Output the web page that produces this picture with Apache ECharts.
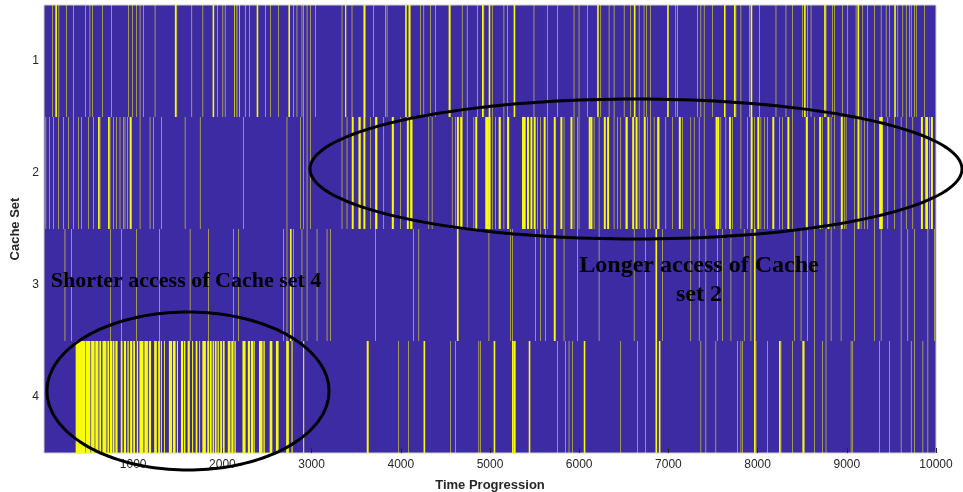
<!DOCTYPE html>
<html><head><meta charset="utf-8">
<script src="https://cdn.jsdelivr.net/npm/echarts@6/dist/echarts.min.js"></script>
<style>html,body{margin:0;padding:0;background:#fff}#c{width:963px;height:492px}</style>
</head><body><div id="c"></div>
<script>
// Cache sets (y categories) and x ticks
const cacheSets = ['1', '2', '3', '4'];
const timeTicks = [1000, 2000, 3000, 4000, 5000, 6000, 7000, 8000, 9000, 10000];
// Accesses per cache set: [start time, duration]
const accessSet1 = [[93,6],[127,18],[164,6],[250,6],[325,6],[464,6],[512,6],[539,6],[651,6],[756,6],[947,6],[988,6],[1036,6],[1074,6],[1111,6],[1242,6],[1467,18],[1486,6],[1654,6],[1778,6],[1890,18],[1942,6],[2002,6],[2028,6],[2133,8],[2159,8],[2186,8],[2253,6],[2302,6],[2384,18],[2478,6],[2534,6],[2627,6],[2740,18],[2796,6],[2833,6],[2889,6],[2908,6],[2946,6],[2983,6],[3039,6],
[3338,6],[3375,14],[3450,6],[3581,18],[3600,6],[3693,6],[3824,6],[3843,6],[4049,18],[4086,18],[4105,6],[4217,6],[4255,6],[4330,6],[4386,6],[4536,18],[4554,6],[4685,6],[4741,6],[4854,6],[4910,18],[4928,6],[4985,18],[5022,6],[5153,6],[5191,6],[5265,18],[5490,6],[5640,6],[5752,6],[5939,6],[5995,6],[6089,6],[6201,18],[6239,6],[6332,6],[6388,6],[6501,6],[6575,6],[6613,18],[6669,6],
[6724,6],[6754,6],[6799,6],[6986,18],[7080,6],[7099,6],[7323,6],[7361,6],[7398,6],[7492,6],[7623,18],[7735,18],[7754,6],[7810,6],[7904,6],[7922,18],[8016,6],[8203,6],[8315,6],[8390,6],[8502,6],[8521,18],[8559,6],[8596,6],[8746,18],[8764,6],[8839,6],[8858,6],[8951,6],[9008,6],[9101,6],[9120,18],[9176,6],[9232,6],[9307,6],[9382,6],[9438,6],[9476,6],[9532,18],[9569,6],[9625,6],[9663,6],[9700,6],[9719,6],[9756,6],[9775,6],[9869,6]];
const accessSet2 = [[18,6],[56,6],[101,6],[157,6],[213,6],[269,6],[325,6],[381,6],[419,6],[494,6],[550,6],[606,18],[625,6],[718,18],[737,6],[774,6],[812,6],[849,6],[887,6],[905,6],[932,6],[961,18],[980,6],[1074,6],[1186,6],[1224,6],[1317,6],[1579,6],[1748,6],[2234,6],[2721,6],[2871,6],[2908,6],[2946,6],[2983,6],
[3338,6],[3394,6],[3450,22],[3525,22],[3544,6],[3581,22],[3656,6],[3712,22],[3731,6],[3806,6],[3899,22],[3918,6],[3993,6],[4068,22],[4105,22],[4124,6],[4311,6],[4348,6],[4573,6],[4610,6],[4629,22],[4666,22],[4685,6],[4741,6],[4816,6],[4835,22],[4947,22],[4966,22],[4985,22],[5022,6],[5059,6],[5097,22],[5116,6],[5153,6],[5191,22],[5209,6],[5359,22],[5378,22],[5415,22],[5453,22],[5490,22],[5527,6],[5565,6],[5602,22],[5640,6],[5715,22],[5789,22],[5827,6],[5902,22],[5939,6],[5977,6],[5995,6],[6107,22],[6126,22],[6164,6],[6220,6],[6276,22],[6313,22],[6388,6],[6426,6],[6463,6],[6519,22],[6538,6],[6594,22],[6632,22],[6669,6],
[6724,22],[6762,6],[6799,6],[6837,6],[6874,22],[6893,6],[6968,6],[7043,6],[7117,22],[7155,6],[7248,6],[7286,6],[7342,6],[7398,6],[7529,22],[7548,22],[7585,6],[7641,6],[7679,22],[7716,6],[7810,6],[7885,6],[7922,22],[7960,6],[7997,22],[8034,6],[8072,6],[8109,6],[8165,22],[8240,6],[8278,6],[8334,22],[8390,6],[8540,22],[8559,6],[8633,6],[8690,22],[8727,6],[8783,22],[8821,6],[8858,6],[8933,22],[8970,6],[8989,6],[9083,6],[9120,22],[9157,6],[9195,6],[9232,6],[9307,6],[9363,22],[9382,22],[9457,6],[9532,6],[9606,6],[9663,6],[9737,6],[9831,22],[9880,30],[9925,6],[9943,22]];
const accessSet3 = [[232,6],[307,6],[744,6],[868,6],[1036,6],[1291,6],[1635,6],[1841,6],[2122,6],[2178,6],[2683,6],[2721,6],[2758,18],[2796,6],[2889,6],[2946,6],[3058,6],[3170,6],[3207,6],
[3712,6],[4142,6],[4199,6],[4629,18],[4985,6],[5228,6],[5247,6],[5509,6],[5565,6],[5621,6],[5715,18],[5733,6],[5827,6],[5977,6],[6220,6],[6613,6],
[6743,6],[6855,18],[6930,6],[7248,6],[7342,6],[7417,6],[7548,6],[7604,6],[7698,6],[7847,6],[7922,6],[7960,18],[8409,6],[8484,6],[8559,6],[8633,6],[8764,6],[8821,6],[8933,6],[9083,6],[9307,6],[9382,6],[9606,6],[9681,6],[9756,6],[9906,6],[9981,6]];
const accessSet4 = [[355,110],[470,50],[528,40],[575,35],[620,20],[655,45],[710,20],[740,25],[770,20],[800,25],[860,20],[895,25],[935,15],[965,25],[1000,20],[1040,15],[1070,45],[1125,40],[1175,25],[1235,30],[1280,20],[1310,12],[1345,10],[1400,35],[1445,30],[1490,12],[1535,25],[1570,15],[1610,25],[1660,12],[1700,20],[1740,10],[1775,40],[1830,20],[1860,20],[1890,15],[1915,20],[1945,15],[1975,20],[2005,20],[2060,30],[2100,25],[2135,15],[2225,35],[2285,25],[2320,25],[2350,12],[2410,40],[2460,15],[2530,30],[2600,30],[2715,30],[2775,12],[2905,12],
[3618,18],[3637,6],[3974,6],[4086,6],[4255,18],[4554,6],[4610,6],[4872,6],[4891,6],[5041,18],[5247,18],[5265,18],[5284,6],[5434,18],[5752,6],[5846,6],[5883,6],[5920,6],[6051,18],[6463,6],[6650,6],
[6743,6],[6855,18],[6893,18],[7361,6],[7417,6],[7529,6],[7772,6],[7810,6],[7829,6],[7960,18],[7979,6],[8109,6],[8240,18],[8259,6],[8390,6],[8502,18],[8521,6],[8633,6],[8727,6],[8764,6],[9045,6],[9064,6],[9363,6],[9476,6],[9606,6],[9719,6],[9756,6],[9850,6],[9906,6]];

const allSets = [accessSet1, accessSet2, accessSet3, accessSet4];
const seriesData = [];
allSets.forEach((arr, i) => arr.forEach(a => seriesData.push([a[0], i, a[1]])));

const chart = echarts.init(document.getElementById('c'), null, {renderer: 'canvas'});
const BLUE = '#3d2ba3', YELLOW = '#f9fb0e';
const serif = '"Liberation Serif", "Times New Roman", serif';

function ellipsePoints(cx, cy, rx, ry) {
  const pts = [];
  for (let k = 0; k < 180; k++) {
    const a = k / 180 * Math.PI * 2;
    pts.push([cx + rx * Math.cos(a), cy + ry * Math.sin(a)]);
  }
  return pts;
}
function label(text, x, y, size) {
  return {type: 'text', x: x, y: y, z: 101,
    style: {text: text, font: 'bold ' + size + 'px ' + serif, fill: '#000',
      align: 'center', verticalAlign: 'middle', textAlign: 'center', textVerticalAlign: 'middle'}};
}

chart.setOption({
  animation: false,
  backgroundColor: '#fff',
  grid: {left: 44, right: 27, top: 5, bottom: 39, containLabel: false, outerBoundsMode: 'none',
    show: true, backgroundColor: BLUE, borderColor: '#d0d0d0', borderWidth: 1},
  xAxis: {
    type: 'value', min: 0, max: 10000, interval: 1000,
    name: 'Time Progression', nameLocation: 'middle', nameGap: 26,
    nameTextStyle: {fontFamily: 'Liberation Sans, Arial', fontWeight: 'bold', fontSize: 13, color: '#262626'},
    axisLine: {show: false},
    axisTick: {show: true, inside: true, length: 5, lineStyle: {color: '#262626'}},
    axisLabel: {showMinLabel: false, fontFamily: 'Liberation Sans, Arial', fontSize: 12, color: '#262626', margin: 6,
      formatter: v => timeTicks.indexOf(v) >= 0 ? String(v) : ''},
    splitLine: {show: false}
  },
  yAxis: {
    type: 'category', data: cacheSets, inverse: true,
    name: 'Cache Set', nameLocation: 'middle', nameGap: 17,
    nameTextStyle: {fontFamily: 'Liberation Sans, Arial', fontWeight: 'bold', fontSize: 13, color: '#262626'},
    axisLine: {show: false},
    axisTick: {show: false},
    axisLabel: {fontFamily: 'Liberation Sans, Arial', fontSize: 12, color: '#262626', margin: 5},
    splitLine: {show: false}
  },
  series: [{
    type: 'custom',
    data: seriesData,
    encode: {x: 0, y: 1},
    clip: true,
    renderItem: function (params, api) {
      const p0 = api.coord([api.value(0), api.value(1)]);
      const p1 = api.coord([api.value(0) + api.value(2), api.value(1)]);
      const h = api.size([0, 1])[1];
      return {type: 'rect', shape: {x: p0[0], y: p0[1] - h / 2, width: p1[0] - p0[0], height: h},
        style: {fill: YELLOW}};
    }
  }],
  graphic: [
    {type: 'polygon', shape: {points: ellipsePoints(636, 169, 326, 70)}, style: {fill: 'none', stroke: '#000', lineWidth: 3}, z: 100},
    {type: 'polygon', shape: {points: ellipsePoints(188, 391, 141, 79)}, style: {fill: 'none', stroke: '#000', lineWidth: 3}, z: 100},
    label('Shorter access of Cache set 4', 186, 281, 22),
    label('Longer access of Cache', 699, 266, 24),
    label('set 2', 699, 295, 24)
  ]
});
</script></body></html>
